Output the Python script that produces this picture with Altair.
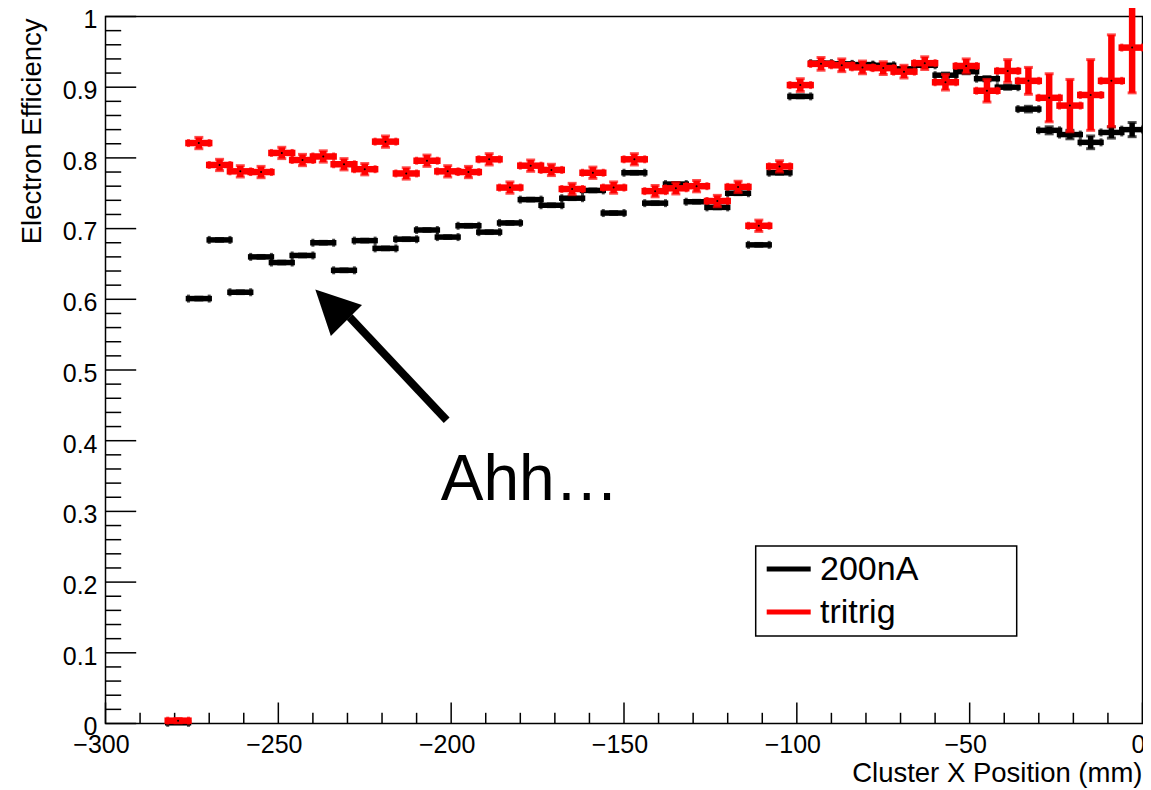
import altair as alt
import pandas as pd

FONT = "Liberation Sans"

# ---- data ----
bin_centers = [-279, -273, -267, -261, -255, -249, -243, -237, -231, -225,
               -219, -213, -207, -201, -195, -189, -183, -177, -171, -165,
               -159, -153, -147, -141, -135, -129, -123, -117, -111, -105,
               -99, -93, -87, -81, -75, -69, -63, -57, -51, -45,
               -39, -33, -27, -21, -15, -9, -3]
bin_half_width = 3

eff_200nA = [0.001, 0.601, 0.684, 0.610, 0.660, 0.652, 0.662, 0.680, 0.641, 0.683,
             0.672, 0.685, 0.698, 0.688, 0.704, 0.695, 0.708, 0.741, 0.733, 0.743,
             0.754, 0.722, 0.779, 0.736, 0.763, 0.738, 0.730, 0.750, 0.677, 0.779,
             0.887, 0.934, 0.933, 0.932, 0.931, 0.926, 0.931, 0.917, 0.922, 0.912,
             0.900, 0.869, 0.839, 0.833, 0.822, 0.836, 0.840]
err_200nA = [0.001, 0.002, 0.002, 0.002, 0.002, 0.002, 0.002, 0.002, 0.002, 0.002,
             0.002, 0.002, 0.002, 0.002, 0.002, 0.002, 0.002, 0.002, 0.002, 0.002,
             0.002, 0.002, 0.002, 0.002, 0.002, 0.002, 0.002, 0.002, 0.002, 0.002,
             0.002, 0.002, 0.002, 0.002, 0.002, 0.002, 0.002, 0.003, 0.003, 0.003,
             0.003, 0.004, 0.005, 0.006, 0.009, 0.008, 0.010]

eff_tritrig = [0.004, 0.821, 0.790, 0.781, 0.780, 0.807, 0.797, 0.802, 0.791, 0.784,
               0.823, 0.778, 0.796, 0.781, 0.780, 0.798, 0.758, 0.789, 0.783, 0.756,
               0.779, 0.758, 0.798, 0.753, 0.757, 0.760, 0.739, 0.759, 0.704, 0.788,
               0.903, 0.933, 0.931, 0.928, 0.927, 0.922, 0.934, 0.907, 0.930, 0.895,
               0.923, 0.909, 0.885, 0.874, 0.889, 0.909, 0.956]
err_tritrig = [0.003, 0.008, 0.008, 0.008, 0.008, 0.008, 0.008, 0.008, 0.008, 0.008,
               0.008, 0.008, 0.008, 0.008, 0.008, 0.008, 0.008, 0.008, 0.008, 0.008,
               0.008, 0.008, 0.008, 0.008, 0.008, 0.008, 0.008, 0.008, 0.008, 0.008,
               0.009, 0.009, 0.009, 0.009, 0.009, 0.009, 0.009, 0.011, 0.010, 0.016,
               0.016, 0.019, 0.034, 0.037, 0.050, 0.065, 0.064]

series_names = ["200nA", "tritrig"]
series_colors = ["#000000", "#ff0000"]
series_widths = [5.5, 6.5]

x_major_ticks = [-300, -250, -200, -150, -100, -50, 0]
x_tick_labels = ["\u2212300", "\u2212250", "\u2212200", "\u2212150", "\u2212100", "\u221250", "0"]
y_major_ticks = [0, 0.1, 0.2, 0.3, 0.4, 0.5, 0.6, 0.7, 0.8, 0.9, 1]
y_tick_labels = ["0", "0.1", "0.2", "0.3", "0.4", "0.5", "0.6", "0.7", "0.8", "0.9", "1"]
x_title = "Cluster X Position (mm)"
y_title = "Electron Efficiency"

annotation_text = "Ahh\u2026"
annotation_pos = {"x": -203.0, "y": 0.316}
arrow_tail = {"x": -201.3, "y": 0.429}
arrow_neck = {"x": -229.4, "y": 0.575}
arrow_tip = {"x": -239.3, "y": 0.614}

# ---- layout ----
W, H = 1037, 707

xs = alt.Scale(domain=[-300, 0], nice=False, zero=False)
ys = alt.Scale(domain=[0, 1], nice=False, zero=False)
NOX = dict(scale=xs, axis=None)
NOY = dict(scale=ys, axis=None)


def frame(vals, errs, name):
    return pd.DataFrame({
        "x": bin_centers,
        "xlo": [c - bin_half_width for c in bin_centers],
        "xhi": [c + bin_half_width for c in bin_centers],
        "y": vals,
        "ylo": [v - e for v, e in zip(vals, errs)],
        "yhi": [v + e for v, e in zip(vals, errs)],
        "series": name,
    })


layers = []

# ---- inward ticks (ROOT style) ----
x_minor = pd.DataFrame({"v": [v for v in range(-300, 1, 10) if v % 50 != 0]})
x_major = pd.DataFrame({"v": x_major_ticks, "lab": x_tick_labels})
y_minor = pd.DataFrame({"v": [round(i * 0.02, 2) for i in range(51) if i % 5 != 0]})
y_major = pd.DataFrame({"v": y_major_ticks, "lab": y_tick_labels})

tick_style = dict(color="black", strokeWidth=1.5)
layers += [
    alt.Chart(x_major).mark_rule(**tick_style).encode(
        x=alt.X("v:Q", **NOX), y=alt.value(H), y2=alt.value(H - 21)),
    alt.Chart(y_major).mark_rule(**tick_style).encode(
        y=alt.Y("v:Q", **NOY), x=alt.value(0), x2=alt.value(30.7)),
    alt.Chart(x_minor).mark_rule(**tick_style).encode(
        x=alt.X("v:Q", **NOX), y=alt.value(H), y2=alt.value(H - 10.7)),
    alt.Chart(y_minor).mark_rule(**tick_style).encode(
        y=alt.Y("v:Q", **NOY), x=alt.value(0), x2=alt.value(15.7)),
    # tick labels
    alt.Chart(x_major).mark_text(
        align="center", baseline="alphabetic", fontSize=25, font=FONT,
        color="black", dx=-4).encode(
        x=alt.X("v:Q", **NOX), y=alt.value(H + 29.5), text="lab:N"),
    alt.Chart(y_major).mark_text(
        align="right", baseline="alphabetic", fontSize=25, font=FONT,
        color="black", dy=11.8).encode(
        y=alt.Y("v:Q", **NOY), x=alt.value(-8), text="lab:N"),
]

# ---- axis titles ----
one = pd.DataFrame({"a": [0]})
layers += [
    alt.Chart(one).mark_text(
        text=x_title, align="right", baseline="alphabetic", fontSize=27.5,
        font=FONT, color="black").encode(x=alt.value(W), y=alt.value(H + 58.5)),
    alt.Chart(one).mark_text(
        text=y_title, align="right", baseline="top", angle=270, fontSize=27.5,
        font=FONT, color="black").encode(x=alt.value(-87), y=alt.value(2)),
]

for vals, errs, name, col, sw in zip([eff_200nA, eff_tritrig], [err_200nA, err_tritrig],
                                     series_names, series_colors, series_widths):
    base = alt.Chart(frame(vals, errs, name))
    hbar = base.mark_rule(strokeWidth=sw, strokeCap="square", color=col).encode(
        x=alt.X("xlo:Q", **NOX), x2="xhi:Q", y=alt.Y("y:Q", **NOY))
    vbar = base.mark_rule(strokeWidth=sw, color=col).encode(
        x=alt.X("x:Q", **NOX), y=alt.Y("ylo:Q", **NOY), y2="yhi:Q")
    cap_l = base.mark_tick(orient="vertical", size=8, thickness=3, color=col).encode(
        x=alt.X("xlo:Q", **NOX), y=alt.Y("y:Q", **NOY))
    cap_r = base.mark_tick(orient="vertical", size=8, thickness=3, color=col).encode(
        x=alt.X("xhi:Q", **NOX), y=alt.Y("y:Q", **NOY))
    cap_b = base.mark_tick(orient="horizontal", size=9, thickness=3, color=col).encode(
        x=alt.X("x:Q", **NOX), y=alt.Y("ylo:Q", **NOY))
    cap_t = base.mark_tick(orient="horizontal", size=9, thickness=3, color=col).encode(
        x=alt.X("x:Q", **NOX), y=alt.Y("yhi:Q", **NOY))
    dot = base.mark_point(filled=True, size=4, color="black", opacity=1).encode(
        x=alt.X("x:Q", **NOX), y=alt.Y("y:Q", **NOY))
    layers += [hbar, vbar, cap_l, cap_r, cap_b, cap_t, dot]

# ---- annotation: arrow and text ----
arrow_df = pd.DataFrame({"x": [arrow_tail["x"]], "y": [arrow_tail["y"]],
                         "x2": [arrow_neck["x"]], "y2": [arrow_neck["y"]]})
layers.append(alt.Chart(arrow_df).mark_rule(strokeWidth=8, color="black").encode(
    x=alt.X("x:Q", **NOX), y=alt.Y("y:Q", **NOY), x2="x2:Q", y2="y2:Q"))
tip_df = pd.DataFrame({"x": [arrow_tip["x"]], "y": [arrow_tip["y"]]})
layers.append(alt.Chart(tip_df).mark_point(
    shape="M0,0L-1,2L1,2Z", size=1936, angle=315, filled=True,
    color="black", opacity=1).encode(
    x=alt.X("x:Q", **NOX), y=alt.Y("y:Q", **NOY)))
text_df = pd.DataFrame({"x": [annotation_pos["x"]], "y": [annotation_pos["y"]],
                        "t": [annotation_text]})
layers.append(alt.Chart(text_df).mark_text(
    align="left", baseline="alphabetic", fontSize=64, font=FONT, color="black").encode(
    x=alt.X("x:Q", **NOX), y=alt.Y("y:Q", **NOY), text="t:N"))

# ---- legend box (ROOT TLegend style) ----
layers.append(alt.Chart(one).mark_rect(fill="white", stroke="black", strokeWidth=1.5).encode(
    x=alt.value(650.2), x2=alt.value(911.2), y=alt.value(529.5), y2=alt.value(619.5)))
for i, (name, col) in enumerate(zip(series_names, series_colors)):
    yl = 552.5 + 43 * i
    layers.append(alt.Chart(one).mark_rule(color=col, strokeWidth=5).encode(
        x=alt.value(661.2), x2=alt.value(705.2), y=alt.value(yl)))
    layers.append(alt.Chart(one).mark_text(
        text=name, align="left", baseline="alphabetic", fontSize=34, font=FONT,
        color="black").encode(x=alt.value(714.5), y=alt.value(yl + 10.8)))

chart = alt.layer(*layers).properties(
    width=W, height=H,
    autosize=alt.AutoSizeParams(type="none"),
    padding={"left": 97.5, "top": 8.5, "right": 0.5, "bottom": 66},
    background="white",
).configure_view(stroke="black", strokeWidth=1.5)

chart.save("out.html", embed_options={"renderer": "svg", "actions": False})
